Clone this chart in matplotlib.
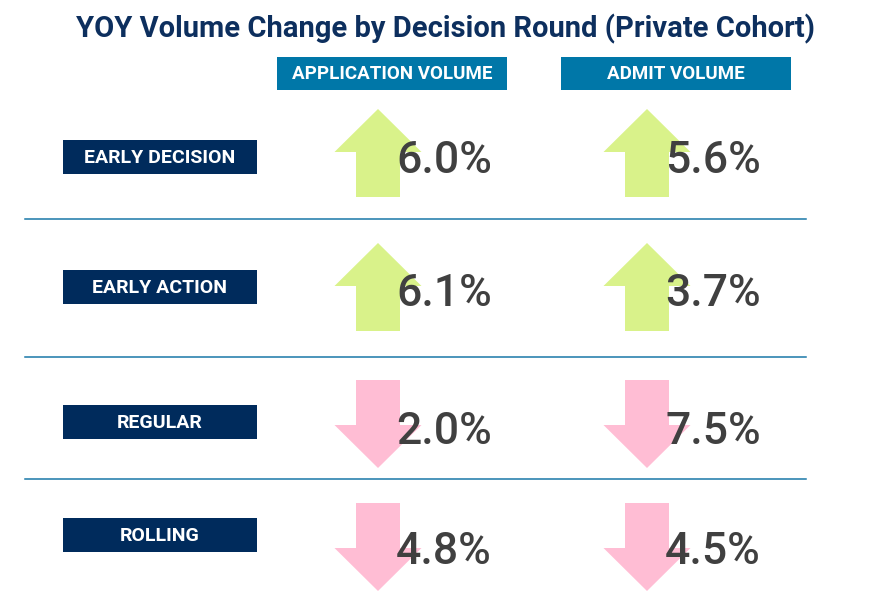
import matplotlib.pyplot as plt
from matplotlib.patches import Polygon, Rectangle

rounds = ["EARLY DECISION", "EARLY ACTION", "REGULAR", "ROLLING"]
columns = ["APPLICATION VOLUME", "ADMIT VOLUME"]
app_change = [6.0, 6.1, -2.0, -4.8]
admit_change = [5.6, 3.7, -7.5, -4.5]

navy = '#002b5c'
teal = '#0077a8'
up_color = '#d9f28a'
down_color = '#ffbdd4'
num_color = '#404040'
fam = ['Roboto', 'DejaVu Sans']

# layout in pixels (y goes down)
row_label_y = [157, 287, 422, 535]
row_arrow_y = [153, 287, 424, 547]
row_text_y = [161, 294, 432, 552]
sep_y = [219, 357, 479]
col_arrow_x = [378, 647]
col_text_x = [444, 713]
col_header_x = [392, 676]


def arrow(ax, cx, cy, up, color):
    h, w, sw, hl = 88, 87, 44, 43
    s = -1 if up else 1
    tip = cy + s * h / 2
    base = cy - s * h / 2
    neck = tip - s * hl
    pts = [(cx - sw / 2, base), (cx + sw / 2, base), (cx + sw / 2, neck),
           (cx + w / 2, neck), (cx, tip), (cx - w / 2, neck), (cx - sw / 2, neck)]
    ax.add_patch(Polygon(pts, closed=True, facecolor=color, edgecolor='none', zorder=1))


fig = plt.figure(figsize=(8.73, 5.98), dpi=100)
ax = fig.add_axes([0, 0, 1, 1])
ax.set_xlim(0, 873)
ax.set_ylim(598, 0)
ax.axis('off')

ax.text(446, 29, "YOY Volume Change by Decision Round (Private Cohort)", ha='center', va='center',
        fontsize=21, fontweight='bold', color='#0d2f5e', family=fam)

for cx, name in zip(col_header_x, columns):
    ax.add_patch(Rectangle((cx - 115, 57), 230, 33, facecolor=teal, edgecolor='none'))
    ax.text(cx, 74, name, ha='center', va='center', fontsize=13.5, fontweight='bold',
            color='white', family=fam)

for i, name in enumerate(rounds):
    y = row_label_y[i]
    ax.add_patch(Rectangle((63, y - 17), 194, 34, facecolor=navy, edgecolor='none'))
    ax.text(160, y + 1, name, ha='center', va='center', fontsize=14, fontweight='bold',
            color='white', family=fam)
    for j, vals in enumerate([app_change, admit_change]):
        v = vals[i]
        arrow(ax, col_arrow_x[j], row_arrow_y[i], v > 0, up_color if v > 0 else down_color)
        ax.text(col_text_x[j], row_text_y[i], f"{abs(v):.1f}%", ha='center', va='center',
                fontsize=32, fontweight='medium', color=num_color, zorder=2, family=fam)

for y in sep_y:
    ax.plot([25, 806], [y, y], color='#1a78a8', lw=1.1)

fig.savefig('out.png', dpi=100)
